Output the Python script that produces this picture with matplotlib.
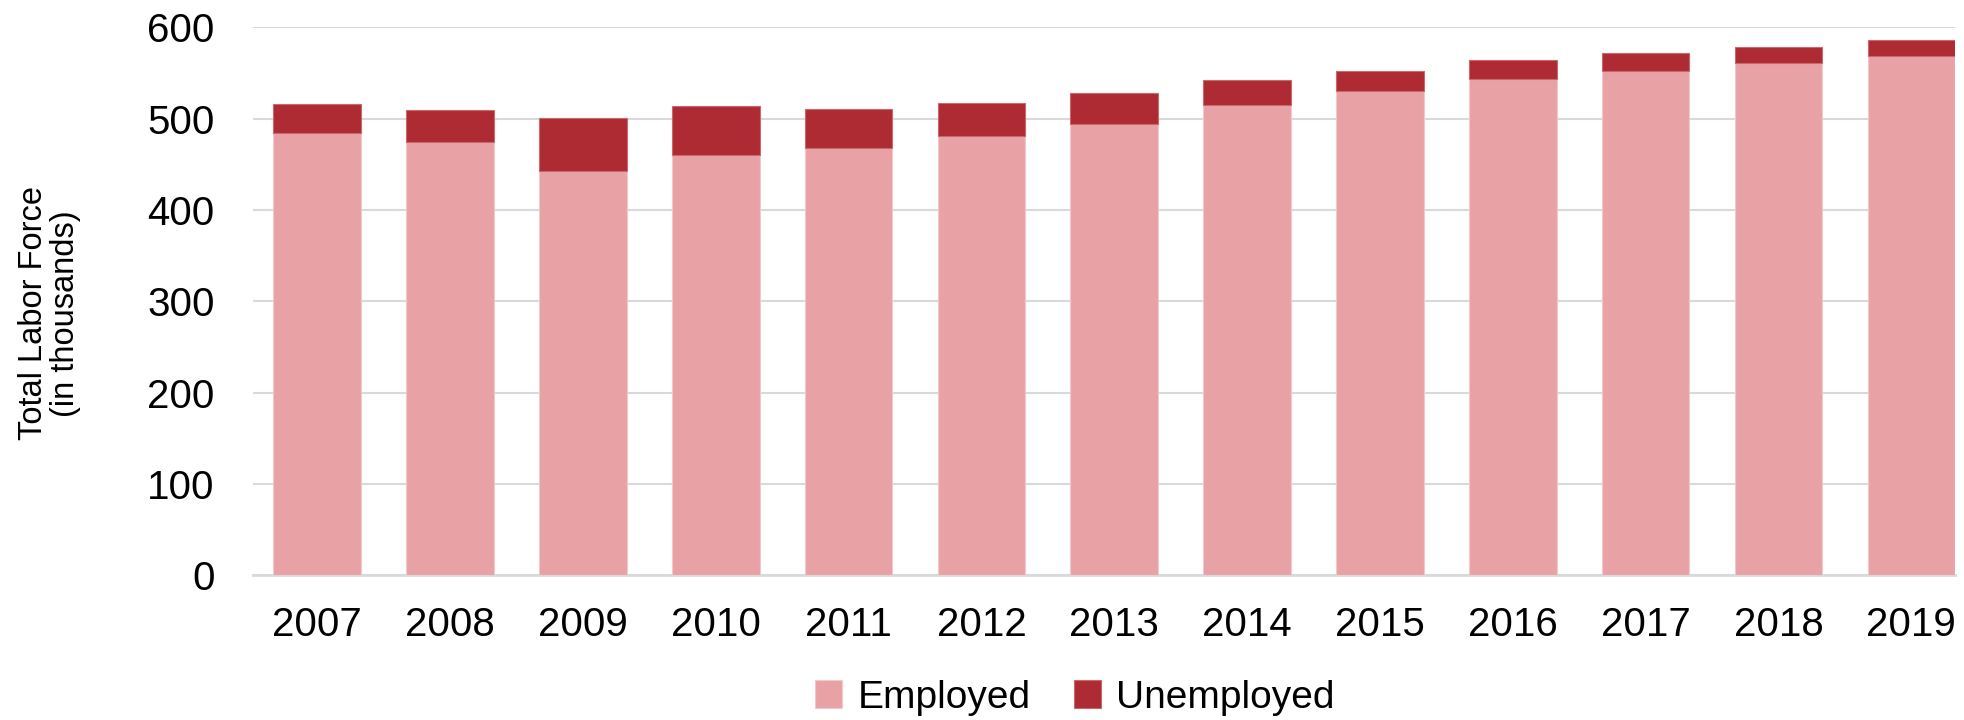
import matplotlib
matplotlib.use("Agg")
import matplotlib.pyplot as plt
import numpy as np

years = ["2007", "2008", "2009", "2010", "2011", "2012", "2013",
         "2014", "2015", "2016", "2017", "2018", "2019"]
employed = [484.5, 474.7, 442.6, 459.8, 467.8, 481.0, 494.1,
            515.0, 530.6, 543.8, 552.2, 561.3, 568.2]
unemployed = [31.5, 35.1, 57.7, 53.6, 42.3, 36.5, 33.6,
              27.7, 21.6, 20.5, 19.7, 17.5, 17.5]
yticks = [0, 100, 200, 300, 400, 500, 600]

c_emp = "#E8A2A6"
c_unemp = "#AE2B33"

plt.rcParams['font.family'] = ['Liberation Sans', 'DejaVu Sans']

fig = plt.figure(figsize=(19.65, 7.2), dpi=100)
ax = fig.add_axes([0.129, 0.201, 0.866, 0.761])

x = np.arange(len(years))
w = 0.66
ax.bar(x, employed, width=w, color=c_emp, edgecolor="#F2C9CB", linewidth=0.8,
       label="Employed", zorder=3)
ax.bar(x, unemployed, width=w, bottom=employed, color=c_unemp,
       edgecolor="#C9686E", linewidth=0.8, label="Unemployed", zorder=3)

ax.set_ylim(0, 600)
ax.set_xlim(-0.48, len(years) - 1 + 0.33)
ax.set_yticks(yticks)
ax.set_xticks(x)
ax.set_xticklabels(years)
ax.tick_params(axis='both', length=0, labelsize=29, colors="black")
ax.tick_params(axis='x', pad=22)
ax.tick_params(axis='y', pad=28)
ax.yaxis.grid(True, color="#D9D9D9", linewidth=1.5, zorder=0)
ax.set_axisbelow(True)
for s in ["top", "right", "left"]:
    ax.spines[s].set_visible(False)
ax.spines["bottom"].set_color("#D9D9D9")
ax.spines["bottom"].set_linewidth(2)

fig.text(0.025, 0.565, "Total Labor Force\n(in thousands)", rotation=90,
         ha="center", va="center", fontsize=23.5, multialignment="center",
         linespacing=1.05)

fig.legend(loc="center", bbox_to_anchor=(0.547, 0.031), ncol=2, frameon=False,
           fontsize=28, handlelength=0.7, handleheight=0.7, handletextpad=0.4,
           columnspacing=1.1)

fig.savefig("out.png", dpi=100)
